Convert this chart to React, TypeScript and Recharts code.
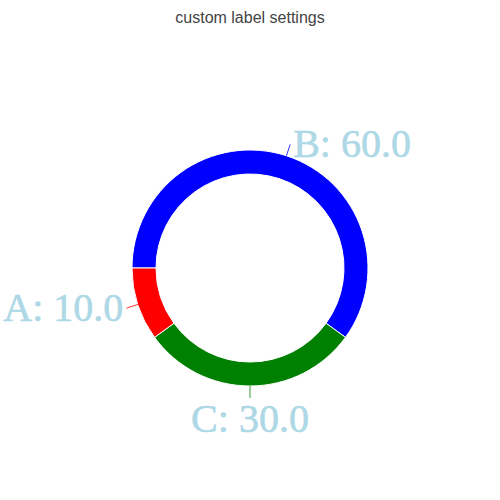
import React from "react";
import { PieChart, Pie, Cell } from "recharts";

const categories = ["B", "C", "A"];
const values = [60, 30, 10];
const colors = ["#0000ff", "#008000", "#ff0000"];
const title = "custom label settings";

const data = categories.map((c, i) => ({ name: c, value: values[i] }));
const RADIAN = Math.PI / 180;

const renderLabel = (props: any) => {
  const { cx, cy, midAngle, outerRadius, name, value, index } = props;
  const cos = Math.cos(-midAngle * RADIAN);
  const sin = Math.sin(-midAngle * RADIAN);
  const sx = cx + outerRadius * cos;
  const sy = cy + outerRadius * sin;
  const ex = cx + (outerRadius + 12) * cos;
  const ey = cy + (outerRadius + 12) * sin;
  let anchor: "start" | "end" | "middle" = "middle";
  let tx = ex;
  let ty = ey + 13;
  if (cos > 0.15) {
    anchor = "start";
    tx = ex + 3;
  } else if (cos < -0.15) {
    anchor = "end";
    tx = ex - 3;
  } else if (sin > 0) {
    ty = ey + 34;
  } else {
    ty = ey - 7;
  }
  return (
    <g key={`lbl-${index}`}>
      <line x1={sx} y1={sy} x2={ex} y2={ey} stroke={colors[index]} strokeWidth={1} strokeOpacity={0.8} />
      <text
        x={tx}
        y={ty}
        textAnchor={anchor}
        fill="#add8e6"
        fontFamily="'Liberation Serif', serif"
        fontSize={40}
        stroke="#add8e6"
        strokeWidth={0.6}
      >
        {`${name}: ${Number(value).toFixed(1)}`}
      </text>
    </g>
  );
};

export default function App() {
  return (
    <div style={{ position: "absolute", left: 0, top: 0, width: 500, height: 500, background: "#fff" }}>
      <div
        style={{
          position: "absolute",
          top: 8,
          left: 0,
          width: 500,
          textAlign: "center",
          fontFamily: "'Liberation Sans', Arial, sans-serif",
          fontSize: 16,
          lineHeight: "20px",
          color: "#444",
        }}
      >
        {title}
      </div>
      <PieChart
        width={500}
        height={500}
        margin={{ top: 0, right: 0, bottom: 0, left: 0 }}
        style={{ position: "absolute", left: 0, top: 0 }}
      >
        <Pie
          data={data}
          dataKey="value"
          nameKey="name"
          cx={250}
          cy={268}
          outerRadius={118}
          innerRadius={94}
          startAngle={180}
          endAngle={-180}
          stroke="#ffffff"
          strokeWidth={1}
          label={renderLabel}
          labelLine={false}
          isAnimationActive={false}
        >
          {data.map((d, i) => (
            <Cell key={d.name} fill={colors[i]} />
          ))}
        </Pie>
      </PieChart>
    </div>
  );
}
